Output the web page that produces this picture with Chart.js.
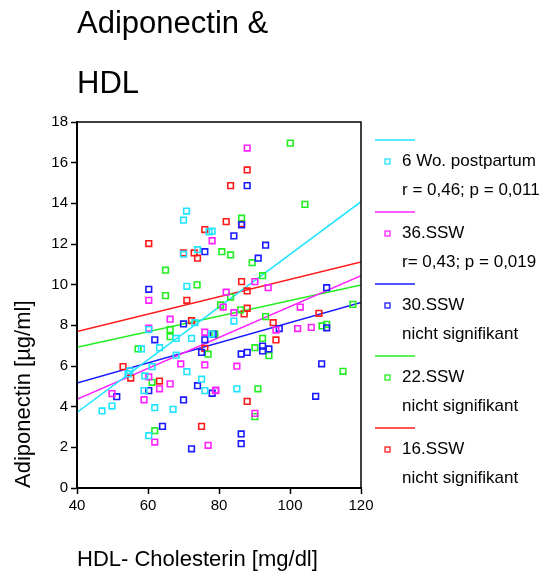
<!DOCTYPE html>
<html>
<head>
<meta charset="utf-8">
<script src="https://cdn.jsdelivr.net/npm/chart.js@4.4.1/dist/chart.umd.min.js"></script>
<style>
  html, body { margin: 0; padding: 0; background: #fff; }
  #wrap { width: 543px; height: 573px; }
</style>
</head>
<body>
<div id="wrap"><canvas id="chart" width="543" height="573"></canvas></div>
<script>
// HDL (x) / Adiponectin (y) pairs
const postpartum6 = [
  [70.85, 13.62], [70.0, 13.17], [77.2, 12.6], [78.07, 12.63], [70.0, 11.5], [73.95, 11.72],
  [70.94, 9.92], [73.19, 8.13], [60.22, 7.79], [67.92, 7.36], [72.26, 7.36], [77.9, 7.57],
  [63.24, 6.9], [58.16, 6.84], [67.92, 6.53], [61.15, 5.97], [54.86, 5.76], [54.38, 5.61],
  [70.94, 5.72], [59.09, 5.51], [75.08, 5.35], [58.89, 4.79], [76.01, 4.79], [49.87, 4.03],
  [47.05, 3.79], [61.91, 3.95], [67.07, 3.87], [60.22, 2.57], [84.19, 8.21], [85.04, 4.88]
];
const ssw36 = [
  [87.94, 16.72], [78.07, 12.16], [90.11, 10.15], [93.86, 9.85], [82.02, 9.63], [60.22, 9.23],
  [66.23, 8.3], [60.22, 7.86], [76.01, 7.66], [69.24, 6.1], [76.01, 6.05], [60.22, 5.47],
  [66.23, 5.12], [63.24, 4.88], [79.03, 4.79], [49.87, 4.64], [58.89, 4.34], [61.91, 2.26],
  [76.94, 2.1], [81.17, 8.9], [84.19, 8.62], [102.89, 8.9], [96.04, 7.77], [102.15, 7.84],
  [105.99, 7.9], [85.04, 5.99], [79.11, 4.81], [90.11, 3.67]
];
const ssw30 = [
  [87.94, 14.87], [76.01, 11.62], [60.22, 9.77], [86.36, 12.94], [84.19, 12.4], [93.13, 11.94],
  [91.04, 11.3], [110.33, 9.85], [70.01, 8.07], [61.91, 7.29], [76.01, 7.29], [78.35, 7.57],
  [75.08, 6.67], [73.95, 5.03], [60.22, 4.79], [78.07, 4.66], [51.2, 4.49], [70.01, 4.33],
  [64.08, 3.03], [72.26, 1.93], [96.97, 7.84], [110.33, 7.88], [92.28, 6.98], [92.28, 6.74],
  [94.06, 6.84], [87.94, 6.67], [86.25, 6.59], [108.92, 6.11], [107.23, 4.51], [86.25, 2.66],
  [86.25, 2.18]
];
const ssw22 = [
  [100.07, 16.96], [104.21, 13.95], [86.36, 13.27], [80.8, 11.62], [83.26, 11.46], [64.93, 10.71],
  [73.84, 9.99], [64.93, 9.46], [89.35, 11.08], [92.28, 10.44], [83.26, 9.39], [117.7, 9.03],
  [66.23, 7.79], [66.23, 7.44], [78.83, 7.57], [57.2, 6.84], [76.94, 6.58], [61.15, 5.2],
  [61.91, 2.82], [80.44, 9.0], [86.08, 8.76], [93.13, 8.43], [109.01, 7.97], [110.33, 8.05],
  [92.28, 7.36], [90.11, 6.9], [94.06, 6.51], [114.93, 5.74], [90.96, 4.88], [90.11, 3.51]
];
const ssw16 = [
  [87.94, 15.64], [83.26, 14.87], [76.01, 12.71], [60.22, 12.02], [82.02, 13.1], [86.36, 13.0],
  [70.01, 11.56], [73.0, 11.56], [73.95, 11.3], [70.94, 9.23], [86.36, 10.15], [87.94, 9.69],
  [72.26, 8.23], [76.01, 6.87], [52.97, 5.97], [55.14, 5.41], [63.24, 5.26], [75.08, 3.03],
  [87.94, 8.84], [87.1, 8.56], [108.16, 8.59], [95.27, 8.13], [96.04, 7.28], [87.94, 4.26]
];

const seriesNames = ['6 Wo. postpartum', '36.SSW', '30.SSW', '22.SSW', '16.SSW'];
const seriesStats = ['r = 0,46; p = 0,011', 'r= 0,43; p = 0,019', 'nicht signifikant', 'nicht signifikant', 'nicht signifikant'];
// regression line values at HDL = 40 and HDL = 120
const fitX = [40, 120];
const fitStart = [3.72, 4.36, 5.16, 6.92, 7.69];
const fitEnd = [14.08, 10.44, 9.13, 9.99, 11.12];

const xTicks = [40, 60, 80, 100, 120];
const yTicks = [0, 2, 4, 6, 8, 10, 12, 14, 16, 18];

const colors = ['#22e4ff', '#ff22ff', '#1a1aff', '#22ee22', '#ff1a1a'];
const allSeries = [postpartum6, ssw36, ssw30, ssw22, ssw16];

const FONT = "'Liberation Sans', Arial, sans-serif";
Chart.defaults.font.family = FONT;
Chart.defaults.color = '#000';

const datasets = [];
allSeries.forEach((pts, i) => {
  datasets.push({
    type: 'scatter',
    label: seriesNames[i],
    data: pts.map(p => ({ x: p[0], y: p[1] })),
    pointStyle: 'rect',
    pointRadius: 4,
    pointBorderWidth: 1.6,
    borderColor: colors[i],
    backgroundColor: 'rgba(0,0,0,0)',
  });
});
allSeries.forEach((pts, i) => {
  datasets.push({
    type: 'line',
    label: seriesNames[i] + ' fit',
    data: [{ x: fitX[0], y: fitStart[i] }, { x: fitX[1], y: fitEnd[i] }],
    borderColor: colors[i],
    borderWidth: 1.5,
    pointRadius: 0,
    fill: false,
  });
});

const extras = {
  id: 'extras',
  afterDraw(chart) {
    const { ctx, chartArea: a } = chart;
    ctx.save();
    // frame
    ctx.strokeStyle = '#000';
    ctx.lineWidth = 1.5;
    ctx.strokeRect(a.left, a.top, a.right - a.left, a.bottom - a.top);

    // title
    ctx.fillStyle = '#000';
    ctx.textAlign = 'left';
    ctx.textBaseline = 'alphabetic';
    ctx.font = '31px ' + FONT;
    ctx.fillText('Adiponectin &', 77, 33);
    ctx.fillText('HDL', 77, 93);

    // legend
    ctx.font = '17px ' + FONT;
    for (let i = 0; i < seriesNames.length; i++) {
      const y0 = 140 + i * 72;
      ctx.strokeStyle = colors[i];
      ctx.lineWidth = 1.5;
      ctx.beginPath();
      ctx.moveTo(375, y0);
      ctx.lineTo(415, y0);
      ctx.stroke();
      ctx.lineWidth = 1.3;
      ctx.strokeRect(385, y0 + 19, 5, 5);
      ctx.fillStyle = '#000';
      ctx.fillText(seriesNames[i], 402, y0 + 26);
      ctx.fillText(seriesStats[i], 402, y0 + 55);
    }
    ctx.restore();
  }
};

const axisCommon = {
  type: 'linear',
  grid: { display: true, drawOnChartArea: false, drawTicks: true, tickLength: 6, tickColor: '#000', tickWidth: 1.5 },
  border: { display: true, color: '#000', width: 2 },
};

new Chart(document.getElementById('chart').getContext('2d'), {
  data: { datasets },
  options: {
    responsive: false,
    animation: false,
    devicePixelRatio: 1,
    layout: { padding: { top: 122, right: 182, left: 0, bottom: 0 } },
    plugins: { legend: { display: false }, tooltip: { enabled: false }, title: { display: false } },
    scales: {
      x: {
        ...axisCommon,
        position: 'bottom',
        min: xTicks[0],
        max: xTicks[xTicks.length - 1],
        afterBuildTicks: s => { s.ticks = xTicks.map(v => ({ value: v })); },
        ticks: { color: '#000', font: { size: 15 }, padding: 3, maxRotation: 0 },
        title: { display: true, text: 'HDL- Cholesterin [mg/dl]', align: 'start', color: '#000', font: { size: 22 }, padding: { top: 0, bottom: 0 } },
        afterFit: s => { s.height = 85; },
      },
      y: {
        ...axisCommon,
        position: 'left',
        min: yTicks[0],
        max: yTicks[yTicks.length - 1],
        afterBuildTicks: s => { s.ticks = yTicks.map(v => ({ value: v })); },
        ticks: { color: '#000', font: { size: 15 }, padding: 3 },
        title: { display: true, text: 'Adiponectin [µg/ml]', align: 'start', color: '#000', font: { size: 22 }, padding: { top: 11, bottom: 0 } },
        afterFit: s => { s.width = 77; },
      },
    },
  },
  plugins: [extras],
});
</script>
</body>
</html>
